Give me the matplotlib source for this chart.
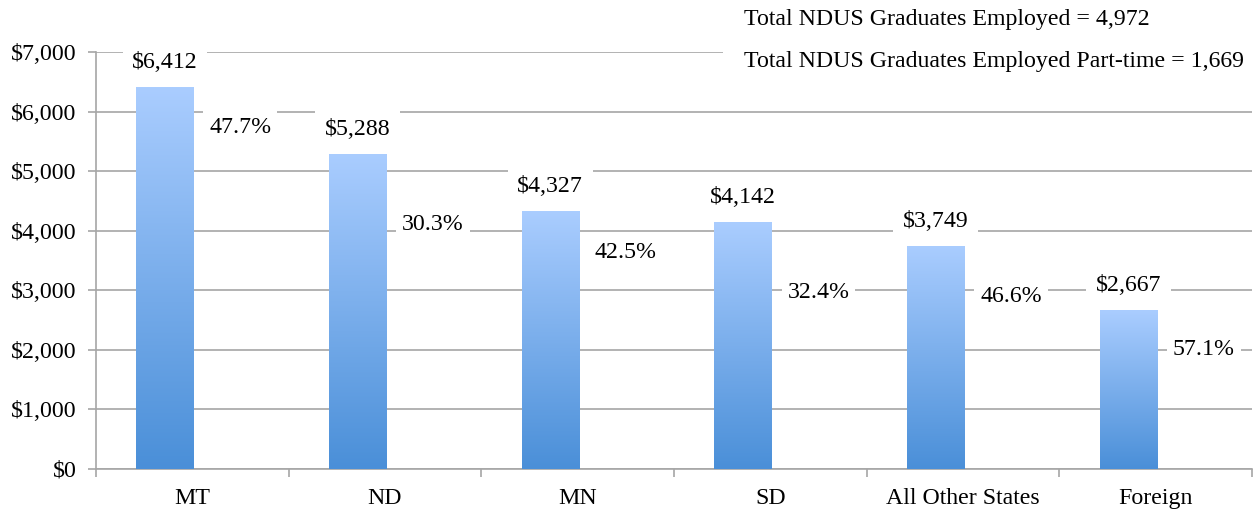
import matplotlib
matplotlib.use('Agg')
import matplotlib.pyplot as plt
import numpy as np
from matplotlib.colors import LinearSegmentedColormap

categories = ['MT', 'ND', 'MN', 'SD', 'All Other States', 'Foreign']
avg_wages = [6412, 5288, 4327, 4142, 3749, 2667]
pct_part_time = ['47.7%', '30.3%', '42.5%', '32.4%', '46.6%', '57.1%']
# heights where the percent labels sit
pct_label_y = [5730, 4110, 3640, 2970, 2900, 2000]
y_ticks = [0, 1000, 2000, 3000, 4000, 5000, 6000, 7000]
note_lines = ['Total NDUS Graduates Employed = 4,972',
              'Total NDUS Graduates Employed Part-time = 1,669']

plt.rcParams['font.family'] = ['Liberation Serif', 'DejaVu Serif']
FS = 17.2
GRID = '#a6a6a6'

fig = plt.figure(figsize=(12.56, 5.12), dpi=100)
ax = fig.add_axes([0.0764, 0.084, 0.9204, 0.8145])

x = np.arange(len(categories))
bars = ax.bar(x - 0.142, avg_wages, width=0.296, color='none', zorder=3)

cmap = LinearSegmentedColormap.from_list('grad', ['#4a8fd8', '#aacdff'])
grad = np.linspace(0, 1, 256).reshape(-1, 1)
for b in bars:
    x0, y0 = b.get_x(), b.get_y()
    img = ax.imshow(grad, cmap=cmap, origin='lower', aspect='auto',
                    extent=[x0, x0 + b.get_width(), y0, y0 + b.get_height()],
                    zorder=3)
    img.set_clip_path(b)

for xi, v in zip(x, avg_wages):
    ax.annotate(f'${v:,}', (xi - 0.142, v), xytext=(0, 17.5), textcoords='offset points',
                ha='center', va='center', fontsize=FS, zorder=5,
                bbox=dict(boxstyle='square,pad=0.4', fc='white', ec='none'))

for xi, lab, ly in zip(x, pct_part_time, pct_label_y):
    ax.text(xi + 0.25, ly, lab, ha='center', va='center', fontsize=FS, zorder=5,
            bbox=dict(boxstyle='square,pad=0.25', fc='white', ec='none'))

ax.set_xlim(-0.5, len(categories) - 0.5)
ax.set_ylim(0, 7000)
ax.set_yticks(y_ticks)
ax.set_yticklabels([f'${t:,}' for t in y_ticks], fontsize=FS)
ax.set_xticks(x)
ax.set_xticklabels(categories, fontsize=FS)
ax.set_xticks(np.arange(len(categories) + 1) - 0.5, minor=True)
ax.tick_params(axis='x', which='major', length=0, pad=14)
ax.tick_params(axis='x', which='minor', length=6, color=GRID, width=1.2)
ax.tick_params(axis='y', length=6, color=GRID, width=1.2, pad=8)

ax.grid(axis='y', color=GRID, linewidth=1.2, zorder=0)
ax.set_axisbelow(True)
for s in ['top', 'right']:
    ax.spines[s].set_visible(False)
for s in ['left', 'bottom']:
    ax.spines[s].set_color(GRID)
    ax.spines[s].set_linewidth(1.2)

fig.text(744 / 1256, 1 - 19 / 512, note_lines[0], ha='left', va='center', fontsize=FS)
fig.text(744 / 1256, 1 - 62 / 512, note_lines[1], ha='left', va='center', fontsize=FS,
         bbox=dict(boxstyle='square,pad=0.9', fc='white', ec='none'), zorder=10)

fig.savefig('out.png', dpi=100)
